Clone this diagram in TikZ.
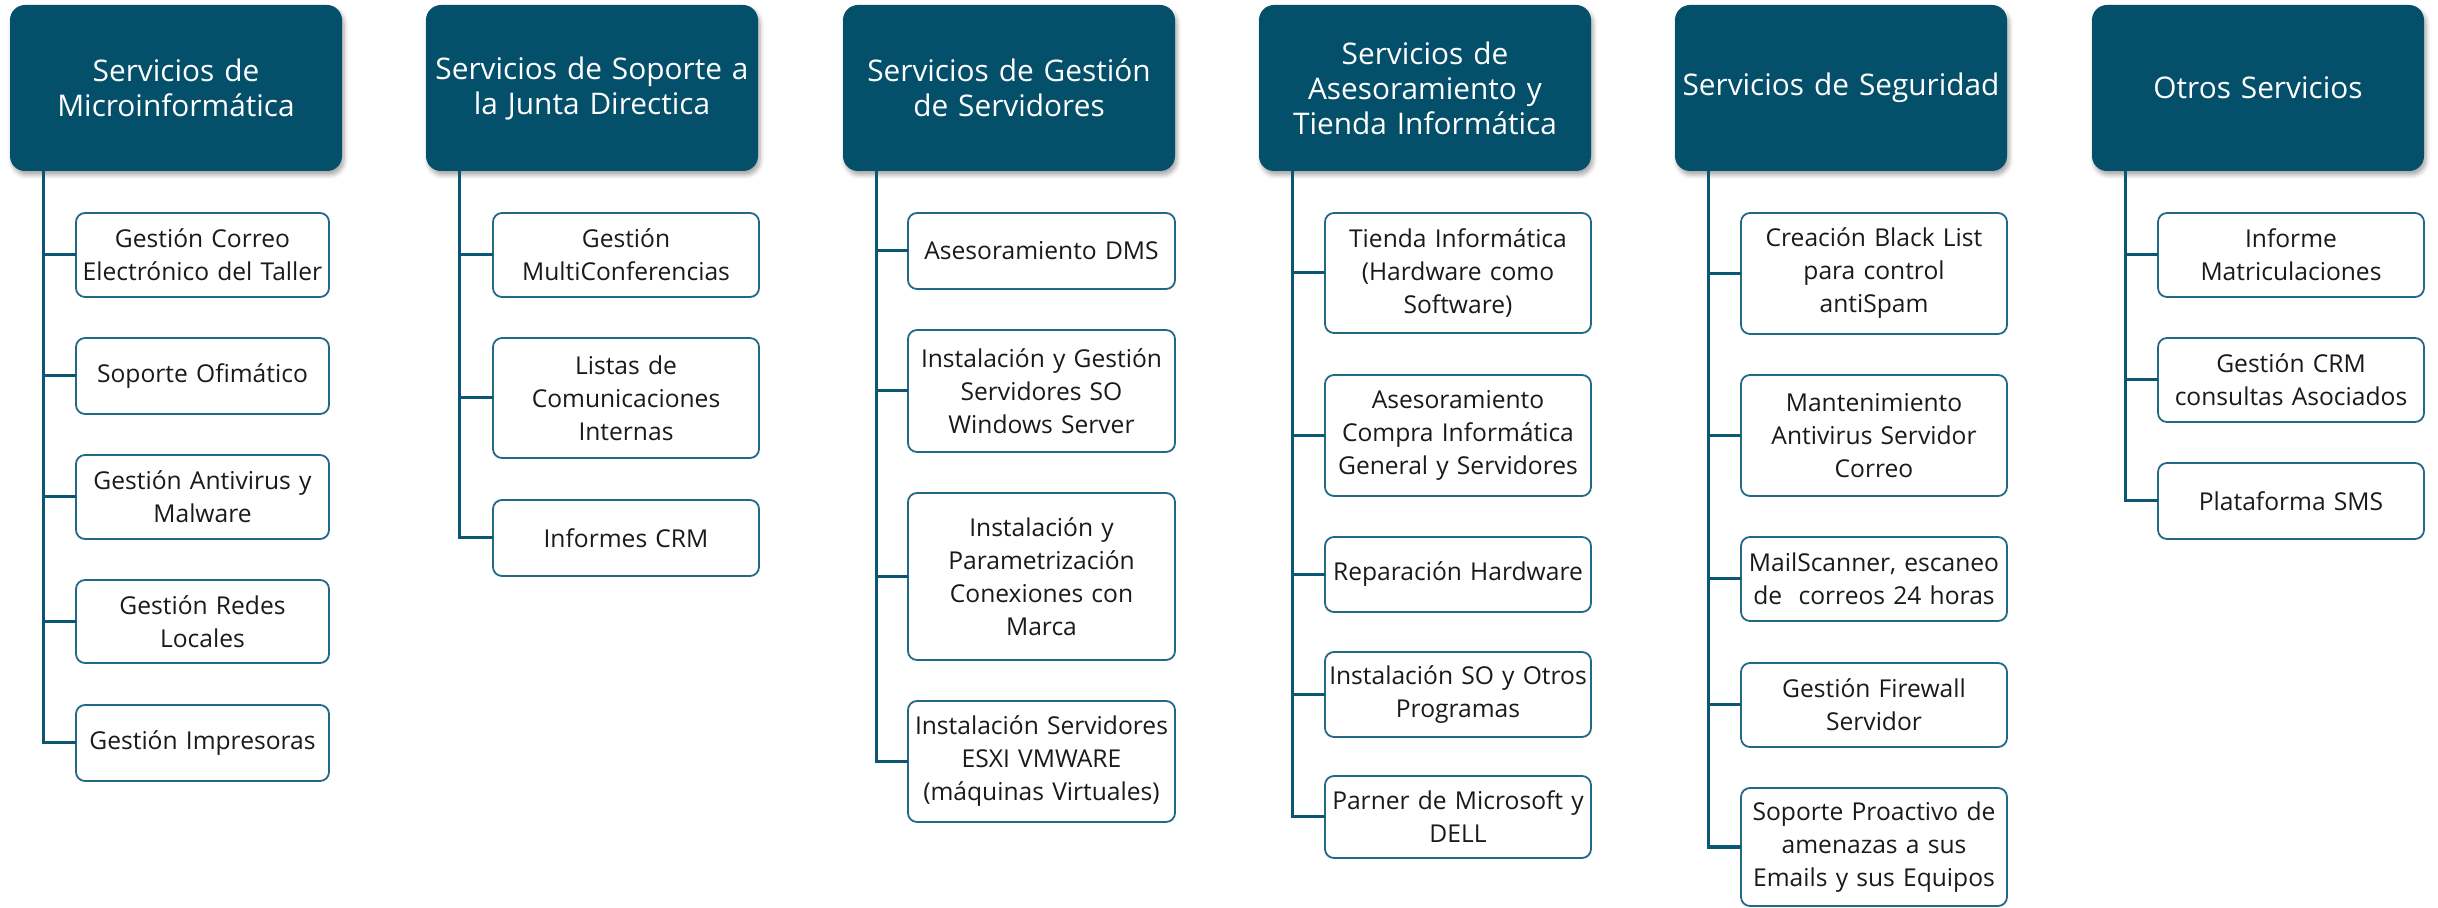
\documentclass[tikz,border=0pt]{standalone}
\usepackage{fontspec}
\setmainfont{Open Sans}
\usetikzlibrary{shadows.blur}
\definecolor{headfill}{HTML}{044F69}
\definecolor{linecol}{HTML}{0B5673}
\definecolor{boxline}{HTML}{236887}
\definecolor{txtcol}{HTML}{1A1A1A}
\tikzset{
  headbox/.style={draw=none, fill=headfill, rounded corners=7.5pt, minimum width=166pt, minimum height=83pt,
    inner sep=0pt, outer sep=0pt, text width=162pt, align=center, text=white,
    font=\fontsize{14.9}{17.5}\selectfont,
    blur shadow={shadow xshift=1pt, shadow yshift=-2pt, shadow blur steps=6, shadow opacity=35}},
  itembox/.style={draw=boxline, line width=0.9pt, fill=white, rounded corners=4.5pt, inner sep=0pt, outer sep=0pt,
    align=center, text=txtcol, font=\fontsize{12.3}{16.5}\selectfont},
  conn/.style={draw=linecol, line width=1.5pt}
}
\newcommand\mkhead[3]{%
  \node[headbox] (#1) at ({#2+166},88) {#3};
  \coordinate (#1t) at ([xshift=16.5pt]#1.south west);}
\newcommand\mkitem[7]{%
  \pgfmathsetmacro\mkw{(#4-#2)*0.5}%
  \pgfmathsetmacro\mkh{(#5-#3)*0.5}%
  \pgfmathsetmacro\mktw{(#4-#2)*0.5}%
  \node[itembox, minimum width=\mkw pt, minimum height=\mkh pt, text width=\mktw pt] (#1) at ({(#2+#4)/2},{(#3+#5)/2}) {#6};
  \draw[conn] (#7t) |- (#1.west);}
\begin{document}
\begin{tikzpicture}[x=0.5pt,y=-0.5pt]
\useasboundingbox (0,0) rectangle (2438,908);
% column 1
\mkhead{h1}{10}{Servicios de\\Microinformática}
\mkitem{a1}{76}{213}{329}{297}{Gestión Correo\\Electrónico del Taller}{h1}
\mkitem{a2}{76}{338}{329}{414}{Soporte Ofimático}{h1}
\mkitem{a3}{76}{455}{329}{539}{Gestión Antivirus y\\Malware}{h1}
\mkitem{a4}{76}{580}{329}{663}{Gestión Redes\\Locales}{h1}
\mkitem{a5}{76}{705}{329}{781}{Gestión Impresoras}{h1}
% column 2
\mkhead{h2}{426}{Servicios de Soporte a\\la Junta Directica}
\mkitem{b1}{493}{213}{759}{297}{Gestión\\MultiConferencias}{h2}
\mkitem{b2}{493}{338}{759}{458}{Listas de\\Comunicaciones\\Internas}{h2}
\mkitem{b3}{493}{500}{759}{576}{Informes CRM}{h2}
% column 3
\mkhead{h3}{843}{Servicios de Gestión\\de Servidores}
\mkitem{c1}{908}{213}{1175}{289}{Asesoramiento DMS}{h3}
\mkitem{c2}{908}{330}{1175}{452}{Instalación y Gestión\\Servidores SO\\Windows Server}{h3}
\mkitem{c3}{908}{493}{1175}{660}{Instalación y\\Parametrización\\Conexiones con\\Marca}{h3}
\mkitem{c4}{908}{701}{1175}{822}{Instalación Servidores\\ESXI VMWARE\\(máquinas Virtuales)}{h3}
% column 4
\mkhead{h4}{1259}{Servicios de\\Asesoramiento y\\Tienda Informática}
\mkitem{d1}{1325}{213}{1591}{333}{Tienda Informática\\(Hardware como\\Software)}{h4}
\mkitem{d2}{1325}{375}{1591}{496}{Asesoramiento\\Compra Informática\\General y Servidores}{h4}
\mkitem{d3}{1325}{537}{1591}{612}{Reparación Hardware}{h4}
\mkitem{d4}{1325}{652}{1591}{737}{Instalación SO y Otros\\Programas}{h4}
\mkitem{d5}{1325}{776}{1591}{858}{Parner de Microsoft y\\DELL}{h4}
% column 5
\mkhead{h5}{1675}{Servicios de Seguridad}
\mkitem{e1}{1741}{213}{2007}{334}{Creación Black List\\para control\\antiSpam}{h5}
\mkitem{e2}{1741}{375}{2007}{496}{Mantenimiento\\Antivirus Servidor\\Correo}{h5}
\mkitem{e3}{1741}{537}{2007}{621}{MailScanner, escaneo\\de\ \ correos 24 horas}{h5}
\mkitem{e4}{1741}{663}{2007}{747}{Gestión Firewall\\Servidor}{h5}
\mkitem{e5}{1741}{788}{2007}{906}{Soporte Proactivo de\\amenazas a sus\\Emails y sus Equipos}{h5}
% column 6
\mkhead{h6}{2092}{Otros Servicios}
\mkitem{f1}{2158}{213}{2424}{297}{Informe\\Matriculaciones}{h6}
\mkitem{f2}{2158}{338}{2424}{422}{Gestión CRM\\consultas Asociados}{h6}
\mkitem{f3}{2158}{463}{2424}{539}{Plataforma SMS}{h6}
\end{tikzpicture}
\end{document}
